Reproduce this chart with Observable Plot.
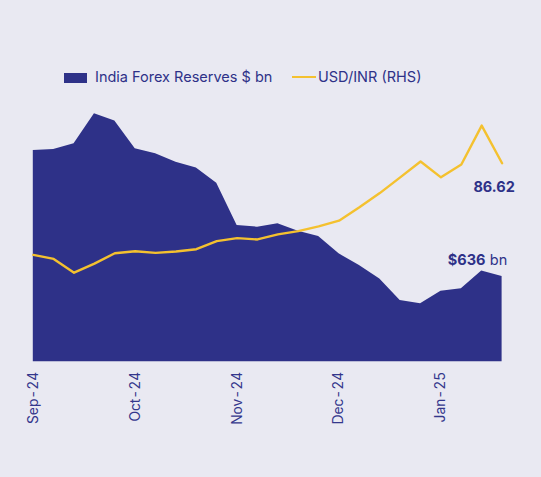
<!DOCTYPE html>
<html>
<head>
<meta charset="utf-8">
<script src="https://cdn.jsdelivr.net/npm/d3@7"></script>
<script src="https://cdn.jsdelivr.net/npm/@observablehq/plot@0.6"></script>
<style>
  body { margin: 0; background: #e9e9f2; font-family: Inter, "Noto Sans", sans-serif; }
  #page { width: 541px; height: 477px; }
  .legend { position: relative; height: 100px; color: #2e3188; font-size: 14.5px; }
  .legend span { position: absolute; }
  .sw-area { left: 64px; top: 73px; width: 23px; height: 10px; background: #2e3188; }
  .sw-line { left: 292px; top: 76px; width: 24px; height: 2px; background: #f4c12f; }
  .lab { top: 68px; line-height: 18px; white-space: nowrap; }
</style>
</head>
<body>
<div id="page">
  <div class="legend">
    <span class="sw-area"></span><span class="lab" style="left:95px">India Forex Reserves $ bn</span>
    <span class="sw-line"></span><span class="lab" style="left:318px">USD/INR (RHS)</span>
  </div>
  <div id="chart"></div>
</div>
<script>
const colors = { reserves: "#2e3188", inr: "#f4c12f", text: "#2e3188" };

// weekly points, Sep-24 .. mid Feb-25
const reserves = [
  689.5, 689.9, 692.3, 705.0, 701.9, 690.2, 688.1, 684.5, 682.1, 675.6,
  657.7, 657.0, 658.4, 655.3, 653.0, 645.7, 640.8, 635.1, 626.0, 624.6,
  629.9, 630.9, 638.4, 636.1,
];
const usdInr = [
  83.89, 83.77, 83.36, 83.63, 83.94, 84.0, 83.95, 83.99, 84.06, 84.3,
  84.39, 84.35, 84.5, 84.6, 84.74, 84.91, 85.31, 85.73, 86.2, 86.67,
  86.2, 86.58, 87.74, 86.62,
];
const tickIndex = [0, 5, 10, 15, 20];
const tickLabels = ["Sep-24", "Oct-24", "Nov-24", "Dec-24", "Jan-25"];

const weeks = reserves.map((r, i) => ({ i, reserves: r, inr: usdInr[i] }));
const last = weeks[weeks.length - 1];

// right hand scale folded onto the left one
const rhs = d3.scaleLinear().domain([83, 88]).range([632.6, 703.7]);

const plot = Plot.plot({
  width: 541,
  height: 377,
  marginTop: 13.3,
  marginBottom: 115.7,
  marginLeft: 32.8,
  marginRight: 39.4,
  style: { background: "transparent", fontFamily: "Inter, sans-serif" },
  x: { domain: [0, reserves.length - 1], axis: null },
  y: { domain: [600, 705], axis: null },
  marks: [
    Plot.areaY(weeks, {
      x: "i",
      y1: 600,
      y2: "reserves",
      fill: colors.reserves,
    }),
    Plot.line(weeks, {
      x: "i",
      y: (d) => rhs(d.inr),
      stroke: colors.inr,
      strokeWidth: 2.4,
    }),
    Plot.axisX({
      ticks: tickIndex,
      tickFormat: (d) => tickLabels[tickIndex.indexOf(d)],
      tickRotate: -90,
      tickSize: 0,
      tickPadding: 10,
      fontSize: 13.8,
      color: "#34378c",
      label: null,
    }),
    Plot.text([last], {
      x: "i",
      y: (d) => rhs(d.inr),
      text: (d) => d3.format(".2f")(d.inr),
      dx: -8,
      dy: 24.6,
      fontSize: 14.5,
      fontWeight: "bold",
      fill: colors.text,
    }),
    Plot.text([last], {
      x: "i",
      y: "reserves",
      text: (d) => `$${Math.round(d.reserves)}`,
      textAnchor: "end",
      dx: -16.6,
      dy: -16.3,
      fontSize: 14.5,
      fontWeight: "bold",
      fill: colors.text,
    }),
    Plot.text([last], {
      x: "i",
      y: "reserves",
      text: () => "bn",
      textAnchor: "start",
      dx: -12.3,
      dy: -16.3,
      fontSize: 14.5,
      fill: colors.text,
    }),
  ],
});

const target = document.getElementById("chart");
target.innerHTML = "";
target.appendChild(plot);
</script>
</body>
</html>
